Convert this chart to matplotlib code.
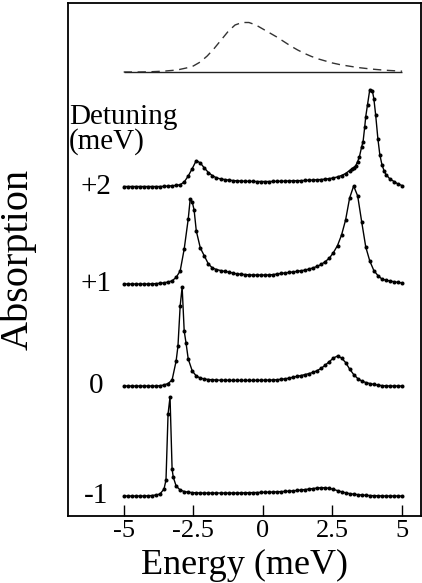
import numpy as np
import matplotlib
matplotlib.use("Agg")
import matplotlib.pyplot as plt

plt.rcParams['font.family'] = ['Liberation Serif', 'DejaVu Serif']

# =========================
# Datos (en unidades arbitrarias)
# =========================

energy = np.linspace(-5, 5, 70)   # malla de energia de los puntos (meV)

detuning_labels = ["-1", "0", "+1", "+2"]

abs_m1 = [0, 0, 0, 0, 0, 0, 0.2, 0.5, 1, 2,
          7, 82, 27, 10, 6, 4.5, 3.8, 3.4, 3.2, 3.0,
          3.0, 3.0, 3.0, 3.0, 3.0, 3.0, 3.0, 3.0, 3.0, 3.1,
          3.2, 3.3, 3.4, 3.5, 3.6, 3.8, 3.9, 4.0, 4.2, 4.4,
          4.6, 4.9, 5.2, 5.6, 6.0, 6.5, 7.0, 7.5, 8.0, 8.3,
          8.2, 7.6, 6.6, 5.4, 4.2, 3.2, 2.4, 1.8, 1.4, 1.0,
          0.7, 0.5, 0.3, 0.2, 0.1, 0, 0, 0, 0, 0]

abs_0 = [0, 0, 0, 0, 0, 0, 0, 0, 0, 0.3,
         1, 2.5, 6, 25, 80, 55, 27, 15, 10, 8,
         7, 6.5, 6.2, 6.0, 5.8, 5.8, 5.7, 5.6, 5.6, 5.6,
         5.6, 5.6, 5.6, 5.7, 5.7, 5.8, 5.9, 6.0, 6.3, 6.7,
         7.2, 7.9, 8.8, 9.7, 10.5, 11.5, 12.5, 13.7, 15.5, 17.8,
         21, 24.5, 28, 30, 28, 23.5, 17, 11.5, 7.5, 5,
         3.5, 2.5, 1.6, 0.9, 0.4, 0.1, 0, 0, 0, 0]

abs_p1 = [0, 0, 0, 0, 0, 0, 0, 0.2, 0.4, 0.7,
          1.2, 2, 3.2, 6.6, 13, 35, 65, 82, 53, 36,
          28, 20, 16, 14.5, 13.5, 12.6, 12, 11, 10.2, 9.8,
          9.5, 9.2, 9.0, 9.0, 9.0, 9.0, 9.1, 9.4, 10, 10.6,
          11.1, 11.6, 12.1, 12.7, 13.3, 14.0, 15.0, 16.2, 17.7, 19.7,
          22.5, 26, 31.5, 38.5, 49, 64, 86, 98, 88, 62,
          37, 23, 13.5, 8.5, 5, 3.8, 3, 2.3, 1.6, 1]

abs_p2 = [0, 0, 0, 0, 0, 0, 0, 0, 0, 0,
          0.2, 0.4, 0.8, 1.1, 1.8, 4.5, 10.5, 18, 26, 23.5,
          18.5, 14, 10.8, 8.7, 7.6, 7, 6.4, 6, 5.7, 5.5,
          5.3, 5.2, 5.1, 5.0, 5.0, 5.0, 5.0, 5.1, 5.2, 5.3,
          5.4, 5.6, 5.7, 5.8, 5.9, 6.1, 6.3, 6.5, 6.8, 7.0,
          7.4, 7.9, 8.6, 9.6, 11, 13, 16, 19, 25, 40,
          70, 97, 88, 48, 22, 12, 7.5, 5, 2.5, 1]

# puntos extra cerca de los picos
extra_e = [[-3.48, -3.335, -3.22],
           [-3.05, -2.90, -2.76],
           [-2.61, -2.47],
           [3.19, 3.33, 3.47, 3.60, 3.66, 3.76, 3.93, 4.05, 4.20, 4.35]]
extra_a = [[16, 99, 19],
           [40, 99, 43],
           [85, 74],
           [17.5, 20.5, 30, 45, 60, 82, 96, 72, 32, 16]]

# espectro del laser (linea discontinua)
laser_e = np.linspace(-5, 5, 41)
laser_a = [0, 0, 0, 0.1, 0.3, 0.6, 1, 1.6, 2.5, 4,
           6, 10, 16, 23.5, 32, 40.5, 47, 49.5, 49.5, 47,
           43, 39, 35, 30.5, 26, 22, 18.5, 15.5, 13, 11,
           9, 7.5, 6.3, 5.2, 4.2, 3.4, 2.7, 2.1, 1.6, 1.2, 0.8]

traces = [abs_m1, abs_0, abs_p1, abs_p2]
offsets = [20, 130, 232, 329.5]
laser_offset = 444

# =========================
# Graficar
# =========================

fig = plt.figure(figsize=(4.22, 5.83), dpi=100)
ax = fig.add_axes([68/422, 1 - 516/583, 353/422, 513/583])

for k in range(4):
    x = np.concatenate([energy, extra_e[k]])
    y = np.concatenate([traces[k], extra_a[k]])
    order = np.argsort(x)
    x = x[order]
    y = y[order] + offsets[k]
    ax.plot(x, y, '-', color='black', lw=1.0)
    ax.plot(x, y, 'o', color='black', ms=2.9, mew=0)
    ax.text(-6.0, offsets[k], detuning_labels[k], ha='center', va='center', fontsize=21)

ax.plot(laser_e, np.array(laser_a) + laser_offset, color='#333333', lw=1.0, dashes=(6, 4))
ax.hlines(laser_offset, laser_e[0], laser_e[-1], color='#222222', lw=1.0)

ax.text(-6.97, 392, "Detuning", ha='left', va='baseline', fontsize=21)
ax.text(-6.97, 367, "(meV)", ha='left', va='baseline', fontsize=21)

ax.set_xlim(-7, 5.68)
ax.set_ylim(0, 513)
ax.set_xticks([-5, -2.5, 0, 2.5, 5])
ax.set_xticklabels(["-5", "-2.5", "0", "2.5", "5"])
ax.set_yticks([])
ax.tick_params(axis='x', direction='in', length=8, width=1, labelsize=19, pad=3)
for s in ax.spines.values():
    s.set_linewidth(1.3)

ax.set_xlabel("Energy (meV)", fontsize=26)
ax.xaxis.set_label_coords(0.5, -0.064)
ax.xaxis.label.set_va('top')
ax.set_ylabel("Absorption", fontsize=29)
ax.yaxis.set_label_coords(-0.088, 0.5)

fig.savefig("out.png", dpi=100)
